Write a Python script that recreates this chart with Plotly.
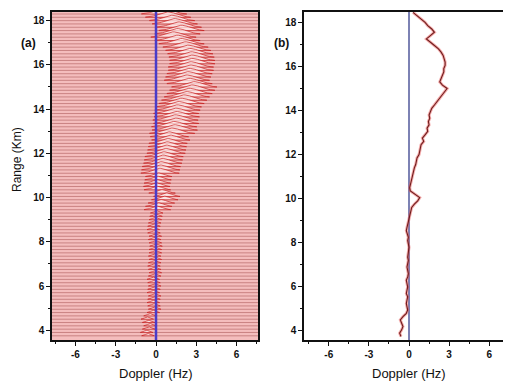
import numpy as np
import plotly.graph_objects as go

# ---------------- data ----------------
# range gates (km), 150 m spacing
ranges = [round(3.75 + 0.15 * i, 2) for i in range(99)]

# mean Doppler shift per gate (Hz)
doppler = [
    -0.60, -0.70, -0.55, -0.45, -0.55, -0.65, -0.45, -0.20, -0.10, -0.15,
    -0.20, -0.15, -0.10, -0.20, -0.15, -0.10, -0.15, -0.20, -0.10, -0.05,
    -0.10, -0.15, -0.10, -0.05, -0.10, -0.05, -0.05, 0.00, -0.05, -0.10,
    -0.05, -0.15, -0.20, -0.15, -0.10, -0.05, 0.00, 0.05, 0.10, 0.20,
    0.40, 0.65, 0.80, 0.45, 0.10, 0.05, 0.10, 0.15, 0.20, 0.30,
    0.35, 0.40, 0.50, 0.55, 0.60, 0.75, 0.80, 0.85, 0.90, 1.10,
    1.00, 1.20, 1.40, 1.35, 1.50, 1.45, 1.55, 1.50, 1.60, 1.70,
    1.90, 2.10, 2.30, 2.50, 2.70, 2.85, 2.50, 2.30, 2.40, 2.50,
    2.60, 2.60, 2.70, 2.70, 2.65, 2.55, 2.40, 2.20, 1.90, 1.60,
    1.30, 1.60, 1.90, 1.70, 1.40, 1.20, 0.90, 0.60, 0.30,
]

# spectral half-width per gate (Hz)
width = ([0.18] * 38) + ([0.38] * 11) + ([0.55] * 12) + ([0.65] * 38)
# spectral peak height per gate (km offset in the stacked plot)
amplitude = ([0.10] * 38) + ([0.16] * 11) + ([0.22] * 12) + ([0.24] * 38)

x_ticks = [-6, -3, 0, 3, 6]
y_ticks = [4, 6, 8, 10, 12, 14, 16, 18]

# ---------------- layout geometry (page has an 8px body margin) ----------------
W, H = 503, 375
OX, OY = 8, 8


def px(x):
    return (x - OX) / W


def py(y):
    return 1 - (y - OY) / H


fig = go.Figure()

XA = [-7.75, 7.6]
XB = [-7.85, 7.55]
YA = [3.56, 18.39]
YB = [3.59, 18.47]

# panel (a) baselines
bx, by = [], []
for r in ranges:
    bx += [XA[0], XA[1], None]
    by += [r, r, None]
fig.add_trace(go.Scatter(x=bx, y=by, mode="lines", line=dict(color="#bf7474", width=0.8),
                         xaxis="x", yaxis="y", showlegend=False, hoverinfo="skip"))

# panel (a) spectra (drawn from far to near)
for r, d, w, a in sorted(zip(ranges, doppler, width, amplitude), reverse=True):
    xs = np.linspace(d - 2.6 * w, d + 2.6 * w, 30)
    ys = r + a * np.exp(-0.5 * ((xs - d) / w) ** 2)
    sx = list(xs) + [xs[-1], xs[0]]
    sy = list(ys) + [r, r]
    fig.add_trace(go.Scatter(x=sx, y=sy, mode="lines", fill="toself",
                             fillcolor="rgba(255,242,242,0.7)",
                             line=dict(color="#c91f1f", width=0.7),
                             xaxis="x", yaxis="y", showlegend=False, hoverinfo="skip"))

# panel (b) profile
fig.add_trace(go.Scatter(x=doppler, y=ranges, mode="lines",
                         line=dict(color="rgba(235,90,90,0.5)", width=3),
                         xaxis="x2", yaxis="y2", showlegend=False, hoverinfo="skip"))
fig.add_trace(go.Scatter(x=doppler, y=ranges, mode="lines",
                         line=dict(color="#6e1c1c", width=1.1),
                         xaxis="x2", yaxis="y2", showlegend=False, hoverinfo="skip"))

tickfont = dict(family="Liberation Sans, Arial, sans-serif", size=10, color="#111", weight="bold")
common = dict(showline=True, linecolor="#111", linewidth=1.5, mirror=True,
              ticks="outside", ticklen=4, tickwidth=1.2, tickcolor="#111",
              showgrid=False, zeroline=False, tickfont=tickfont)
xminor = dict(dtick=1.5, tick0=0, ticks="outside", ticklen=2, tickwidth=1, tickcolor="#111")
yminor = dict(dtick=1, tick0=0, ticks="outside", ticklen=2, tickwidth=1, tickcolor="#111")

fig.update_layout(
    width=W, height=H,
    margin=dict(l=0, r=0, t=0, b=0),
    paper_bgcolor="white",
    plot_bgcolor="white",
    xaxis=dict(domain=[px(52), px(258)], range=XA, tickvals=x_ticks,
               ticktext=[str(v) for v in x_ticks], minor=xminor, anchor="y", **common),
    yaxis=dict(domain=[py(340), py(12)], range=YA, tickvals=y_ticks,
               minor=yminor, anchor="x", **common),
    xaxis2=dict(domain=[px(304), px(510)], range=XB, tickvals=x_ticks,
                ticktext=[str(v) for v in x_ticks], minor=xminor, anchor="y2", **common),
    yaxis2=dict(domain=[py(340), py(12)], range=YB, tickvals=y_ticks,
                minor=yminor, anchor="x2", **common),
)

fig.add_shape(type="rect", xref="x domain", yref="y domain", x0=0, x1=1, y0=0, y1=1,
              fillcolor="#f4bdbd", line=dict(width=0), layer="below")
# zero-Doppler lines
fig.add_shape(type="line", xref="x", yref="y", x0=0, x1=0, y0=YA[0], y1=YA[1],
              line=dict(color="#4a3cc8", width=2.5), layer="above")
fig.add_shape(type="line", xref="x2", yref="y2", x0=0, x1=0, y0=YB[0], y1=YB[1],
              line=dict(color="#7c82b4", width=2), layer="below")

labfont = dict(family="Liberation Sans, Arial, sans-serif", size=13, color="#111")
rfont = dict(family="Liberation Sans, Arial, sans-serif", size=12, color="#111")
pfont = dict(family="Liberation Sans, Arial, sans-serif", size=12, color="#111", weight="bold")


def ann(text, x, y, font, angle=0):
    fig.add_annotation(text=text, x=px(x), y=py(y), xref="paper", yref="paper",
                       xanchor="center", yanchor="middle", textangle=angle,
                       showarrow=False, font=font)


ann("Range (Km)", 17, 160, rfont, -90)
ann("Doppler (Hz)", 156, 373, labfont)
ann("Doppler (Hz)", 409, 373, labfont)
ann("(a)", 28, 43, pfont)
ann("(b)", 281, 43, pfont)

fig.write_html("out.html")
